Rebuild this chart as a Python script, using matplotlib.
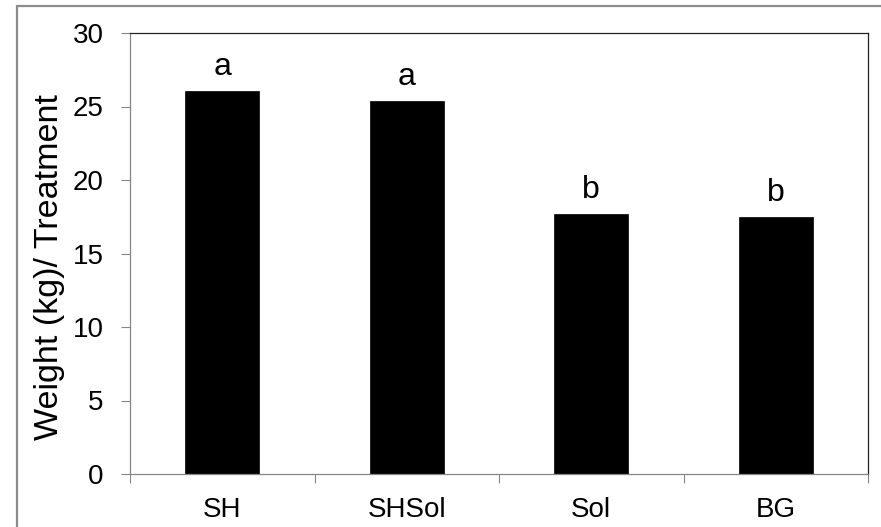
import matplotlib
matplotlib.use("Agg")
import matplotlib.pyplot as plt
from matplotlib.patches import Rectangle

plt.rcParams['font.family'] = ['Liberation Sans', 'DejaVu Sans']

categories = ["SH", "SHSol", "Sol", "BG"]
weights = [26.07, 25.37, 17.67, 17.5]
letters = ["a", "a", "b", "b"]
y_ticks = [0, 5, 10, 15, 20, 25, 30]

AXIS_GREY = "#868686"

fig = plt.figure(figsize=(8.81, 5.27), dpi=100)
ax = fig.add_axes([130 / 881, 1 - 474 / 527, 738 / 881, 441 / 527])

# outer chart frame, cut off by the picture edges on the right and bottom
fig.add_artist(Rectangle((17 / 881, -0.05), 1.0, 1 - 6 / 527 + 0.05,
                         transform=fig.transFigure, fill=False,
                         edgecolor="#8c8c8c", linewidth=1.6, clip_on=False))

x = list(range(len(categories)))
ax.bar(x, weights, width=0.4, color="black", edgecolor="black", linewidth=0.5)

for xi, w, lab in zip(x, weights, letters):
    ax.annotate(lab, (xi, w), xytext=(0, 11.5), textcoords="offset points",
                ha="center", va="baseline", fontsize=23)

ax.set_xlim(-0.5, len(categories) - 0.5)
ax.set_ylim(0, 30)
ax.set_yticks(y_ticks)
ax.set_xticks(x)
ax.set_xticklabels(categories)
ax.set_xticks([i - 0.5 for i in range(len(categories) + 1)], minor=True)

ax.tick_params(axis="y", labelsize=20, length=6.5, width=0.8,
               color=AXIS_GREY, pad=12.5)
ax.tick_params(axis="x", which="major", labelsize=20, length=0, pad=16.5)
ax.tick_params(axis="x", which="minor", length=6.5, width=0.8,
               color=AXIS_GREY)

ax.set_ylabel("Weight (kg)/ Treatment", fontsize=24.5)
# label sits a bit below the middle of the axis, as in the reference
ax.yaxis.set_label_coords(-0.088, 0.47)

ax.spines["left"].set_color(AXIS_GREY)
ax.spines["bottom"].set_color(AXIS_GREY)
ax.spines["top"].set_color("#222222")
ax.spines["right"].set_color("#222222")
for s in ax.spines.values():
    s.set_linewidth(0.9)

fig.savefig("out.png", dpi=100)
